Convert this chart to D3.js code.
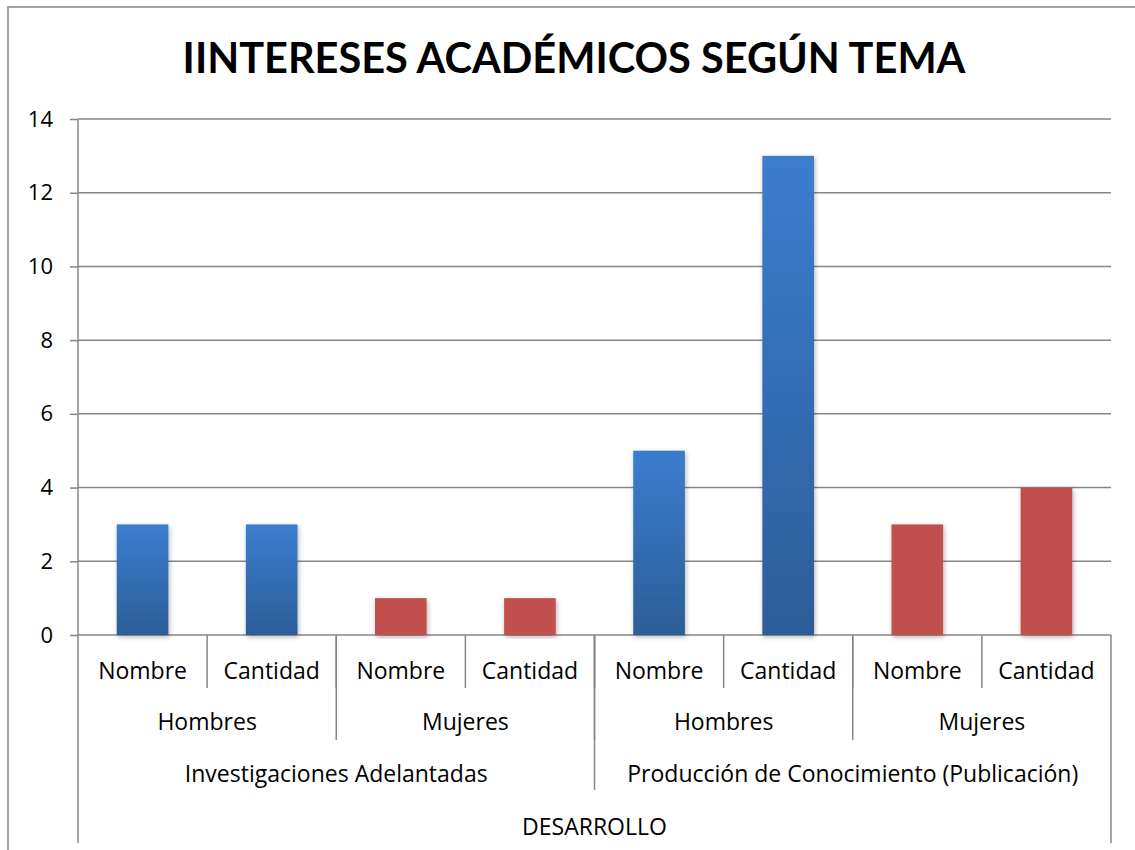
<!DOCTYPE html>
<html lang="es">
<head>
<meta charset="utf-8">
<title>Intereses académicos según tema</title>
<script src="https://d3js.org/d3.v7.min.js"></script>
<style>
  body { margin: 0; background: #fff; }
  svg text { font-family: "Open Sans", Lato, sans-serif; fill: #000; }
</style>
</head>
<body>
<svg width="1135" height="850"></svg>
<script>
// data
var leaves   = ["Nombre", "Cantidad", "Nombre", "Cantidad", "Nombre", "Cantidad", "Nombre", "Cantidad"];
var groups   = ["Hombres", "Mujeres", "Hombres", "Mujeres"];
var topics   = ["Investigaciones Adelantadas", "Producción de Conocimiento (Publicación)"];
var outer    = ["DESARROLLO"];
var values   = [3, 3, 1, 1, 5, 13, 3, 4];
var sexes    = ["Hombres", "Hombres", "Mujeres", "Mujeres", "Hombres", "Hombres", "Mujeres", "Mujeres"];
var yTicks   = [0, 2, 4, 6, 8, 10, 12, 14];

var svg = d3.select("svg");
var plotLeft = 78, plotRight = 1111, plotTop = 119, plotBottom = 635, axisEnd = 843;

var x = d3.scaleBand().domain(d3.range(leaves.length)).range([plotLeft, plotRight]).paddingInner(0.6).paddingOuter(0.3);
var y = d3.scaleLinear().domain([0, 14]).range([plotBottom, plotTop]);

// gradient for blue bars
var defs = svg.append("defs");
var gr = defs.append("linearGradient").attr("id", "blue").attr("x1", 0).attr("y1", 0).attr("x2", 0).attr("y2", 1);
gr.append("stop").attr("offset", "0%").attr("stop-color", "#3b7dcf");
gr.append("stop").attr("offset", "100%").attr("stop-color", "#2c5d98");
var sh = defs.append("filter").attr("id", "shadow").attr("x", "-20%").attr("y", "-10%").attr("width", "140%").attr("height", "120%");
sh.append("feDropShadow").attr("dx", 1).attr("dy", 2).attr("stdDeviation", 2.5).attr("flood-color", "#000").attr("flood-opacity", 0.3);

// outer frame (runs past the right and bottom edges)
svg.append("rect").attr("x", 8).attr("y", 7).attr("width", 1200).attr("height", 900)
  .attr("fill", "none").attr("stroke", "#868686").attr("stroke-width", 1.5);

// title
svg.append("text").attr("x", 574).attr("y", 73).attr("text-anchor", "middle")
  .attr("font-size", 41.5).attr("font-weight", "bold")
  .style("font-family", "Lato, sans-serif")
  .text("IINTERESES ACADÉMICOS SEGÚN TEMA");

var axisCol = "#878787";

// gridlines
svg.append("g").selectAll("line").data(yTicks).join("line")
  .attr("x1", plotLeft).attr("x2", plotRight)
  .attr("y1", function(d) { return y(d); }).attr("y2", function(d) { return y(d); })
  .attr("stroke", axisCol).attr("stroke-width", 1.5);

// y axis
var yAxis = d3.axisLeft(y).tickValues(yTicks).tickSize(8).tickPadding(17);
var gy = svg.append("g").attr("transform", "translate(" + plotLeft + ",0)").call(yAxis);
gy.select(".domain").remove();
gy.selectAll("line").attr("stroke", axisCol).attr("stroke-width", 1.5);
gy.selectAll("text").attr("font-size", 22).attr("font-family", null);

// bars
svg.append("g").selectAll("rect").data(values).join("rect")
  .attr("x", function(d, i) { return x(i); })
  .attr("width", x.bandwidth())
  .attr("y", function(d) { return y(d); })
  .attr("height", function(d) { return y(0) - y(d); })
  .attr("fill", function(d, i) { return sexes[i] === "Hombres" ? "url(#blue)" : "#c0504d"; })
  .attr("filter", "url(#shadow)");

// category axis lines
svg.append("line").attr("x1", plotLeft).attr("x2", plotLeft).attr("y1", plotTop).attr("y2", axisEnd)
  .attr("stroke", axisCol).attr("stroke-width", 1.5);
svg.append("line").attr("x1", plotRight).attr("x2", plotRight).attr("y1", plotBottom).attr("y2", axisEnd)
  .attr("stroke", axisCol).attr("stroke-width", 1.5);

function level(n, y2, labels, ly) {
  var w = (plotRight - plotLeft) / n;
  svg.append("g").selectAll("line").data(d3.range(1, n)).join("line")
    .attr("x1", function(d) { return plotLeft + d * w; }).attr("x2", function(d) { return plotLeft + d * w; })
    .attr("y1", plotBottom).attr("y2", y2)
    .attr("stroke", axisCol).attr("stroke-width", 1.5);
  svg.append("g").selectAll("text").data(labels).join("text")
    .attr("x", function(d, i) { return plotLeft + (i + 0.5) * w; })
    .attr("y", ly).attr("text-anchor", "middle").attr("font-size", 23)
    .text(function(d) { return d; });
}
level(8, 688, leaves, 679);
level(4, 740, groups, 730);
level(2, 790, topics, 782);
level(1, axisEnd, outer, 835);
</script>
</body>
</html>
